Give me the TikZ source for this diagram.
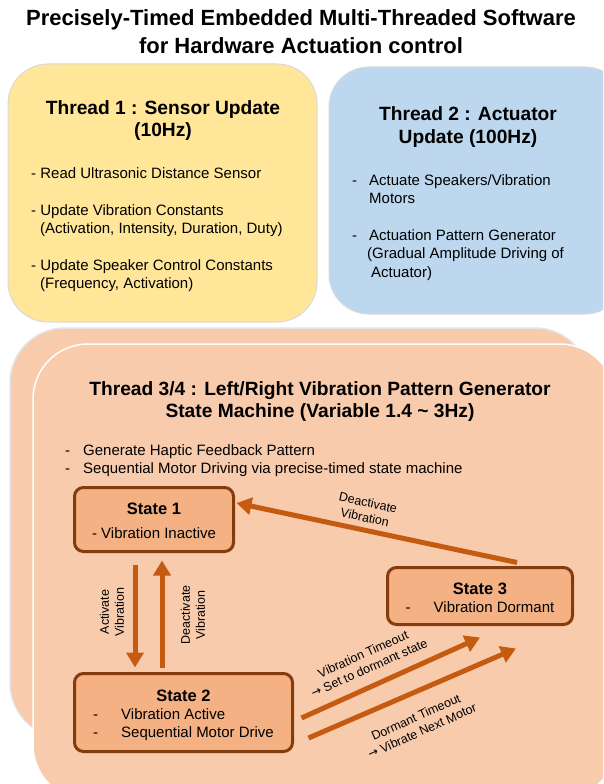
\documentclass[tikz,border=0pt]{standalone}
\usepackage{fontspec}
\setmainfont{Liberation Sans}
\newfontfamily\arrowfont{DejaVu Sans}
\usetikzlibrary{arrows.meta,calc}
\definecolor{tyellow}{HTML}{FFE699}
\definecolor{tblue}{HTML}{BDD7EE}
\definecolor{tpeach}{HTML}{F8CBAD}
\definecolor{sfill}{HTML}{F4B183}
\definecolor{sborder}{HTML}{843C0C}
\definecolor{arr}{HTML}{C55A11}
\definecolor{rim}{HTML}{D9D9D9}
\newcommand{\rarr}{{\arrowfont\fontsize{12}{14}\selectfont →}}
\newcommand{\lowerit}[2]{\raisebox{-#1}[\height][\depth]{#2}}
\begin{document}
\begin{tikzpicture}[x=1pt,y=-1pt,
  tbox/.style={draw=rim, line width=1pt, rounded corners=40pt},
  pbox/.style={fill=tpeach, line width=1.5pt, rounded corners=55pt},
  statebox/.style={draw=sborder, fill=sfill, line width=3pt, rounded corners=9pt, inner sep=0pt, font=\fontsize{15}{18}\selectfont},
  conn/.style={draw=arr, line width=5pt, -{Triangle[length=15pt,width=17pt]}},
  ttl/.style={font=\bfseries\fontsize{22}{26}\selectfont, anchor=base, inner sep=0pt},
  hd/.style={font=\bfseries\fontsize{19.2}{22}\selectfont, anchor=base, inner sep=0pt},
  txt/.style={font=\fontsize{15}{18}\selectfont, anchor=base west, inner sep=0pt},
  lab/.style={font=\fontsize{12.5}{15}\selectfont, align=center, inner sep=0pt},
]
\useasboundingbox (0,0) rectangle (603,784);
\fill[white] (0,0) rectangle (603,784);
\clip (0,0) rectangle (603,784);

% title
\node[ttl] (title1) at (301,26) {Precisely-Timed Embedded Multi-Threaded Software};
\node[ttl] (title2) at (301,53) {for Hardware Actuation control};

% thread 1
\draw[tbox, fill=tyellow] (8,64) rectangle (317,322);
\node[hd] (t1a) at (163,114) {Thread 1 : Sensor Update};
\node[hd] (t1b) at (163,136) {(10Hz)};
\node[txt] (b1) at (31,178) {- Read Ultrasonic Distance Sensor};
\node[txt] (b2) at (31,215) {- Update Vibration Constants};
\node[txt] (b2b) at (40,233) {(Activation, Intensity, Duration, Duty)};
\node[txt] (b3) at (31,270) {- Update Speaker Control Constants};
\node[txt] (b3b) at (40,288) {(Frequency, Activation)};

% thread 2
\draw[tbox, fill=tblue] (329,67) rectangle (625,314);
\node[hd] (t2a) at (468,120) {Thread 2 : Actuator};
\node[hd] (t2b) at (468,143) {Update (100Hz)};
\node[txt] (d21) at (352,185) {-};
\node[txt] (c21) at (369,185) {Actuate Speakers/Vibration};
\node[txt] (c21b) at (369,203) {Motors};
\node[txt] (d22) at (352,240) {-};
\node[txt] (c22) at (369,240) {Actuation Pattern Generator};
\node[txt] (c22b) at (367,258) {(Gradual Amplitude Driving of};
\node[txt] (c22c) at (371,277) {Actuator)};

% thread 3/4
\draw[pbox, draw=rim!70!white] (10,328) rectangle (590,738);
\draw[pbox, draw=white] (33,344) rectangle (615,800);
\node[hd] (t3a) at (320,395) {Thread 3/4 : Left/Right Vibration Pattern Generator};
\node[hd] (t3b) at (320,417) {State Machine (Variable 1.4 \textasciitilde{} 3Hz)};
\node[txt] (d31) at (65,455) {-};
\node[txt] (c31) at (83,455) {Generate Haptic Feedback Pattern};
\node[txt] (d32) at (65,473) {-};
\node[txt] (c32) at (83,473) {Sequential Motor Driving via precise-timed state machine};

% states
\node[statebox, minimum width=159pt, minimum height=64pt] (s1) at (154,519.5)
  {\lowerit{3.5pt}{\begin{tabular}{@{}c@{}}\fontsize{16.5}{18}\selectfont\bfseries State 1\\[6pt] - Vibration Inactive\end{tabular}}};
\node[statebox, minimum width=218pt, minimum height=78pt] (s2) at (183.5,712.5)
  {\lowerit{3pt}{\begin{tabular}{@{}p{28pt}@{}l@{}}\multicolumn{2}{c}{\fontsize{16.5}{18}\selectfont\bfseries State 2}\\ - & Vibration Active\\ - & Sequential Motor Drive\end{tabular}}};
\node[statebox, minimum width=185pt, minimum height=57pt] (s3) at (480,596)
  {\lowerit{4pt}{\begin{tabular}{@{}p{28pt}@{}l@{}}\multicolumn{2}{c}{\fontsize{16.5}{18}\selectfont\bfseries State 3}\\ - & Vibration Dormant\end{tabular}}};

% connectors
\draw[conn] ($(s1.south)+(-19,12)$) -- ($(s2.north)+(-48.5,-4.5)$);
\draw[conn] ($(s2.north)+(-21.5,-4)$) -- ($(s1.south)+(8,7.5)$);
\draw[conn] ($(s3.north)+(37,-3.5)$) -- ($(s1.east)+(1.5,-16.5)$);
\draw[conn] ($(s2.east)+(7.5,5.5)$) -- ($(s3.south)+(0,11.5)$);
\draw[conn] ($(s2.east)+(14.5,25.5)$) -- ($(s3.south)+(36,22.5)$);

% labels
\node[lab, rotate=90] (la1) at (112,612) {Activate\\Vibration};
\node[lab, rotate=90] (la2) at (193,615) {Deactivate\\Vibration};
\node[lab, rotate=-12] (la3) at (366.5,510) {Deactivate\\Vibration};
\node[lab, rotate=24] (la4) at (366,661) {Vibration Timeout\\\rarr{} Set to dormant state};
\node[lab, rotate=24] (la5) at (419,724) {Dormant Timeout\\\rarr{} Vibrate Next Motor};
\end{tikzpicture}
\end{document}
